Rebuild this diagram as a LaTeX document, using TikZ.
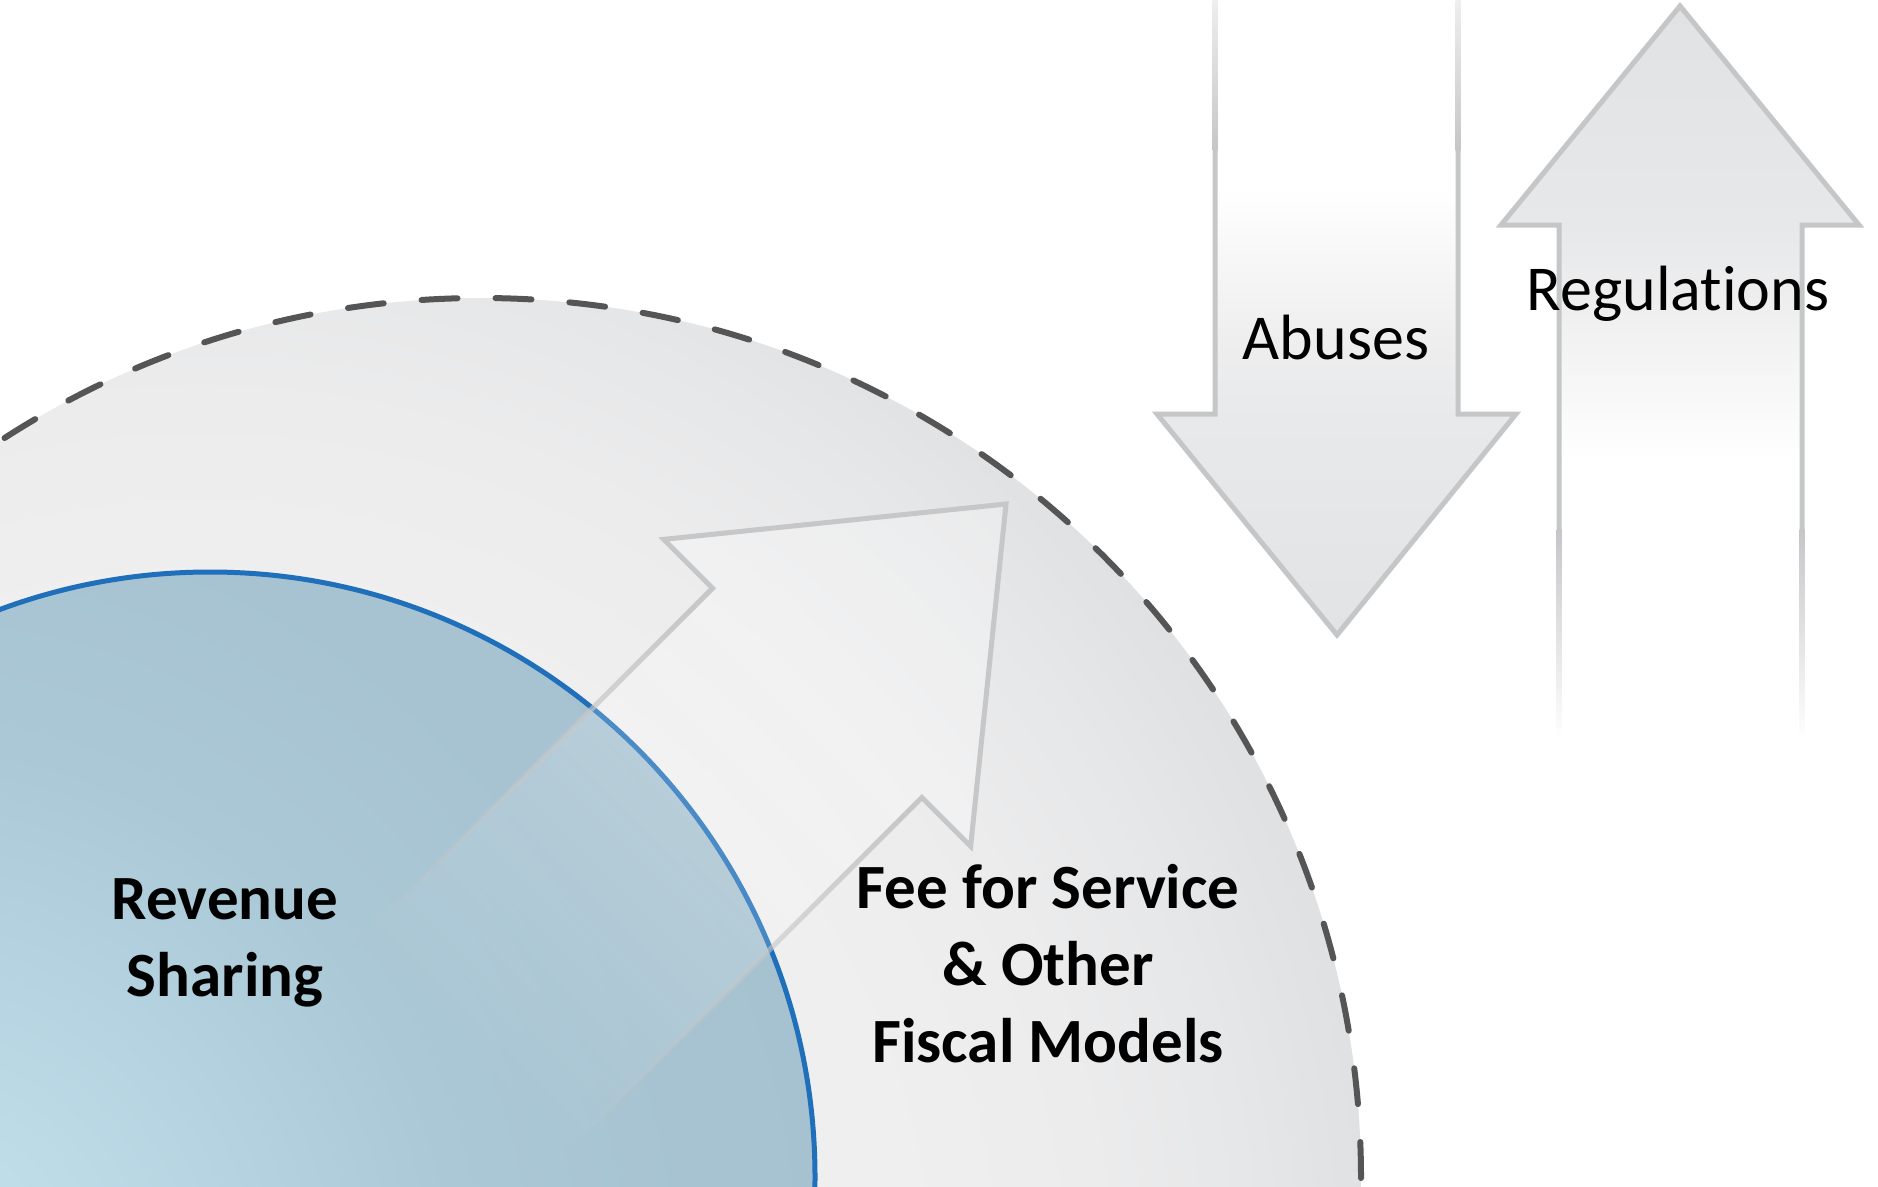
\documentclass[tikz,border=0pt]{standalone}
\usepackage{fontspec}
\setmainfont{Carlito}[Ligatures={NoCommon}]

\definecolor{ringA}{HTML}{F3F3F4}
\definecolor{ringB}{HTML}{EFEFF0}
\definecolor{ringC}{HTML}{ECECED}
\definecolor{ringD}{HTML}{E6E7E8}
\definecolor{ringE}{HTML}{E1E2E4}
\definecolor{ringF}{HTML}{DDDEE0}
\definecolor{blA}{HTML}{C3E3EF}
\definecolor{blB}{HTML}{BEDDE9}
\definecolor{blC}{HTML}{ABC8D6}
\definecolor{blD}{HTML}{A7C3D1}
\definecolor{blE}{HTML}{A6C2D0}
\definecolor{dA}{HTML}{E2E3E5}
\definecolor{dB}{HTML}{E8E9EA}
\definecolor{dC}{HTML}{EEEEEF}
\definecolor{dD}{HTML}{F9F9F9}
\definecolor{uA}{HTML}{E1E2E4}
\definecolor{uB}{HTML}{E7E8EA}
\definecolor{uC}{HTML}{EEEEEF}
\definecolor{uD}{HTML}{FAFAFA}
\definecolor{dashgray}{HTML}{555555}
\definecolor{blueline}{HTML}{1F6FBA}
\definecolor{arrowgray}{HTML}{C5C6C8}
\definecolor{innergray}{HTML}{C6C7C9}
\definecolor{fadetop}{HTML}{EFEFEF}

\pgfdeclareradialshading{ringshade}{\pgfpoint{0bp}{0bp}}{color(0bp)=(ringA); color(14bp)=(ringB); color(18bp)=(ringC); color(21bp)=(ringD); color(23bp)=(ringE); color(25bp)=(ringF); color(50bp)=(ringF)}
\pgfdeclareradialshading{blueshade}{\pgfpoint{0bp}{0bp}}{color(0bp)=(blA); color(4bp)=(blB); color(14bp)=(blC); color(20bp)=(blD); color(25bp)=(blE); color(50bp)=(blE)}
\pgfdeclareverticalshading{downfill}{100bp}{color(0bp)=(dA); color(25bp)=(dA); color(42bp)=(dB); color(48bp)=(dC); color(56bp)=(dD); color(60bp)=(white); color(100bp)=(white)}
\pgfdeclareverticalshading{upfill}{100bp}{color(0bp)=(white); color(44bp)=(white); color(47bp)=(uD); color(55bp)=(uC); color(60bp)=(uB); color(75bp)=(uA); color(100bp)=(uA)}

\tikzset{
  ringdash/.style={draw=dashgray, line width=6pt, dash pattern=on 36pt off 38pt, line cap=round},
  blueedge/.style={draw=blueline, line width=5pt},
  arrowline/.style={draw=arrowgray, line width=5pt, line join=miter},
  innerline/.style={draw=innergray, line width=5pt, line join=miter},
  regtext/.style={font=\fontsize{64pt}{77pt}\selectfont, text=black, inner sep=0pt},
  boldtext/.style={font=\fontsize{63pt}{77pt}\selectfont\bfseries, text=black, inner sep=0pt},
}

\begin{document}
\begin{tikzpicture}[x=1pt, y=-1pt]
\useasboundingbox (0,0) rectangle (1878,1186);
\begin{scope}
  \clip (0,0) rectangle (1878,1186);
  % outer ring
  \begin{scope}
    \clip (481,1178) circle (880pt);
    \shade[shading=ringshade] (200,1300) circle (1250pt);
  \end{scope}
  % inner blue disc
  \begin{scope}
    \clip (210,1177) circle (605pt);
    \shade[shading=blueshade] (-100,1300) circle (1000pt);
  \end{scope}
  \draw[blueedge] (210,1177) circle (605pt);
  \draw[ringdash] (481,1178) circle (880pt);
  % interior diagonal arrow (tip at 1006,504), shaft fading out to the lower left
  \begin{scope}[shift={(1006,504)}, rotate=45]
    \fill[white, fill opacity=0.28]
      (0pt,0pt) -- (-267pt,217pt) -- (-267pt,148pt) -- (-290pt,148pt)
      -- (-290pt,-148pt) -- (-267pt,-148pt) -- (-267pt,-217pt) -- cycle;
    \draw[innerline]
      (-290pt,148pt) -- (-267pt,148pt) -- (-267pt,217pt) -- (0pt,0pt)
      -- (-267pt,-217pt) -- (-267pt,-148pt) -- (-290pt,-148pt);
    \foreach \i in {0,...,39}{
      \pgfmathsetmacro\xa{-290-\i*12.125}
      \pgfmathsetmacro\xb{-290-(\i+1)*12.125}
      \pgfmathsetmacro\op{1-(\i+0.5)/40}
      \pgfmathsetmacro\fo{0.28*(1-(\i+0.5)/40)}
      \fill[white, fill opacity=\fo]
        (\xa pt,148pt) -- (\xb pt,148pt) -- (\xb pt,-148pt) -- (\xa pt,-148pt) -- cycle;
      \draw[innergray, line width=5pt, draw opacity=\op]
        (\xa pt,148pt) -- (\xb pt,148pt) (\xa pt,-148pt) -- (\xb pt,-148pt);
    }
  \end{scope}
  % down arrow (Abuses)
  \shade[shading=downfill] (1215,-3) -- (1215,414) -- (1157,414) -- (1337,635)
    -- (1516,414) -- (1458,414) -- (1458,-3) -- cycle;
  \draw[arrowline] (1215,150) -- (1215,414) -- (1157,414) -- (1337,635)
    -- (1516,414) -- (1458,414) -- (1458,150);
  \shade[top color=fadetop, bottom color=arrowgray] (1212.5,-3) rectangle (1217.5,150.5);
  \shade[top color=fadetop, bottom color=arrowgray] (1455.5,-3) rectangle (1460.5,150.5);
  % up arrow (Regulations)
  \shade[shading=upfill] (1559,740) -- (1559,225) -- (1501,225) -- (1680,6)
    -- (1859,225) -- (1802,225) -- (1802,740) -- cycle;
  \draw[arrowline] (1559,530) -- (1559,225) -- (1501,225) -- (1680,6)
    -- (1859,225) -- (1802,225) -- (1802,530);
  \shade[top color=arrowgray, bottom color=white] (1556.5,529.5) rectangle (1561.5,740);
  \shade[top color=arrowgray, bottom color=white] (1799.5,529.5) rectangle (1804.5,740);
\end{scope}
% texts
\node[regtext, anchor=base] (abuses) at (1336,359) {Abuses};
\node[regtext, anchor=base] (regs) at (1678,310) {Regulations};
\node[boldtext, anchor=base] (rev1) at (225,919) {Revenue};
\node[boldtext, anchor=base] (rev2) at (225,996) {Sharing};
\node[boldtext, anchor=base] (fee1) at (1048,908) {Fee for Service};
\node[boldtext, anchor=base] (fee2) at (1048,985) {\& Other};
\node[boldtext, anchor=base] (fee3) at (1048,1062) {Fiscal Models};
\end{tikzpicture}
\end{document}
